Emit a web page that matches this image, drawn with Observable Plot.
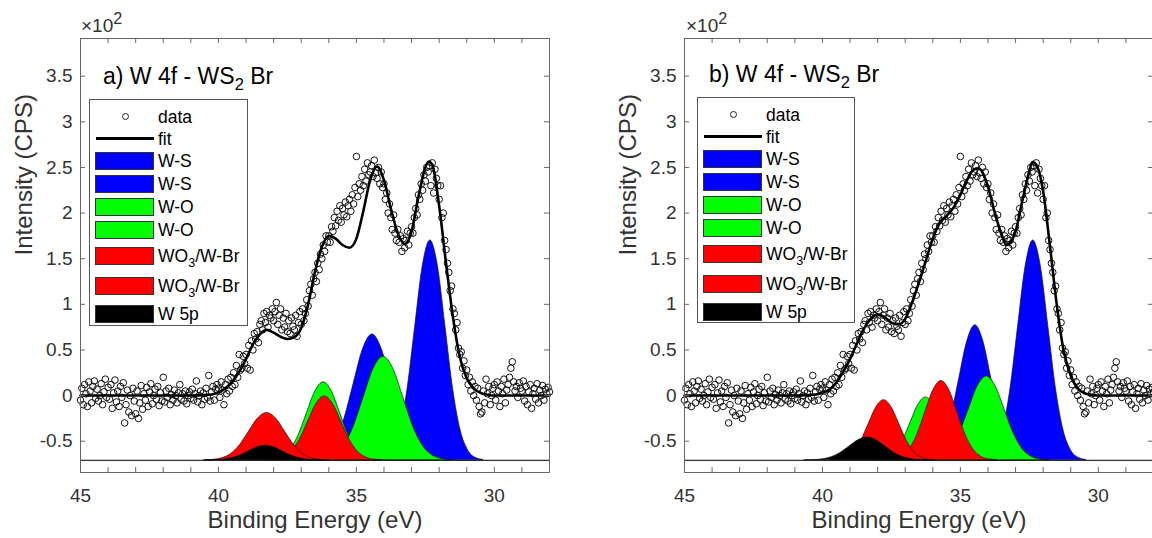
<!DOCTYPE html>
<html>
<head>
<meta charset="utf-8">
<script src="https://cdn.jsdelivr.net/npm/d3@7"></script>
<script src="https://cdn.jsdelivr.net/npm/@observablehq/plot@0.6"></script>
<style>
  html, body { margin: 0; padding: 0; background: #fff; }
  body { width: 1152px; height: 538px; overflow: hidden; position: relative;
         font-family: "Liberation Sans", Arial, Helvetica, sans-serif; color: #262626; }
  .panel { position: absolute; top: 0; width: 576px; height: 538px; }
  .panel svg { position: absolute; left: 0; top: 0; overflow: visible; }
  .title { position: absolute; font-size: 23px; line-height: 23px; white-space: nowrap; color: #000; }
  .title sub, .legend sub { font-size: 0.72em; vertical-align: -0.38em; line-height: 0; }
  .expo { position: absolute; font-size: 19px; line-height: 19px; white-space: nowrap; color: #333; }
  .expo sup { font-size: 0.85em; vertical-align: 0.5em; line-height: 0; }
  .legend { position: absolute; background: #fff; border: 1px solid #555; box-sizing: border-box; }
  .legend .lab { position: absolute; font-size: 17.5px; line-height: 20px; height: 20px; white-space: nowrap; color: #000; }
  .legend .sw { position: absolute; height: 18px; box-sizing: border-box; border: 1px solid #333; }
  .legend .ln { position: absolute; height: 3px; background: #000; }
  .legend .mk { position: absolute; width: 7px; height: 7px; box-sizing: border-box; border: 1px solid #222; border-radius: 50%; }
</style>
</head>
<body>
<div id="panelA" class="panel" style="left:0px"></div>
<div id="panelB" class="panel" style="left:604px"></div>
<script>
// ---- measured spectrum: intensity (x10^2 CPS) on a 0.05 eV grid from 45.00 down to 28.00 eV
const energyStart = 45.0;
const energyStep = 0.05;
const intensity = [
  -0.05, 0.08, -0.10, 0.12, 0.02, -0.12, 0.15, 0.05, -0.08, 0.10, 0.16, -0.03, 0.07, -0.06, 0.00, 0.13, -0.10, 0.04, 0.18, -0.02,
  0.09, -0.04, 0.12, -0.14, 0.03, 0.17, -0.07, 0.05, -0.12, 0.10, -0.02, 0.14, -0.30, -0.10, 0.06, -0.18, 0.00, -0.22, 0.08, -0.06,
  -0.20, 0.05, -0.25, -0.08, 0.11, -0.15, 0.02, -0.05, 0.09, -0.12, 0.04, 0.13, -0.09, 0.00, 0.07, -0.04, 0.10, -0.11, 0.03, -0.06,
  0.20, -0.07, 0.05, -0.02, 0.08, -0.10, 0.01, -0.05, 0.06, 0.00, -0.08, 0.03, 0.12, -0.04, 0.02, -0.06, 0.05, -0.09, 0.00, 0.04,
  -0.03, 0.07, -0.05, 0.02, 0.16, -0.07, 0.00, 0.05, -0.10, 0.03, -0.04, 0.08, -0.02, 0.22, -0.06, 0.04, 0.10, -0.05, 0.07, 0.12,
  0.08, -0.02, 0.15, 0.06, -0.10, 0.12, 0.02, 0.18, 0.05, 0.20, 0.10, 0.25, 0.12, 0.33, 0.20, 0.45, 0.28, 0.30, 0.43, 0.35,
  0.45, 0.30, 0.55, 0.28, 0.60, 0.50, 0.68, 0.62, 0.70, 0.58, 0.78, 0.82, 0.72, 0.90, 0.80, 0.92, 0.75, 0.88, 0.85, 0.95,
  0.82, 0.92, 1.02, 0.78, 0.88, 0.95, 0.72, 0.85, 0.75, 0.90, 0.70, 0.82, 0.68, 0.85, 0.76, 0.72, 0.88, 0.65, 0.80, 0.92,
  0.78, 0.95, 0.82, 0.90, 1.05, 0.98, 1.15, 1.22, 1.10, 1.28, 1.35, 1.25, 1.45, 1.38, 1.55, 1.50, 1.65, 1.58, 1.75, 1.68,
  1.75, 1.68, 1.85, 1.80, 1.95, 1.86, 2.02, 1.92, 2.08, 1.90, 2.05, 1.98, 2.12, 1.96, 2.08, 2.15, 2.02, 2.20, 2.10, 2.28,
  2.62, 2.18, 2.32, 2.25, 2.40, 2.30, 2.48, 2.35, 2.55, 2.42, 2.45, 2.52, 2.40, 2.58, 2.44, 2.38, 2.50, 2.32, 2.45, 2.28,
  2.32, 2.15, 2.22, 2.00, 2.10, 1.95, 1.82, 1.98, 1.78, 1.70, 1.82, 1.68, 1.75, 1.58, 1.72, 1.62, 1.70, 1.80, 1.65, 1.78,
  1.85, 1.78, 1.95, 2.05, 1.98, 2.20, 2.15, 2.32, 2.25, 2.42, 2.35, 2.50, 2.45, 2.52, 2.30, 2.55, 2.22, 2.48, 2.38, 2.30,
  2.15, 2.30, 1.95, 2.00, 1.70, 1.60, 1.45, 1.35, 1.15, 1.20, 0.95, 0.90, 0.72, 0.80, 0.52, 0.45, 0.48, 0.30, 0.38, 0.22,
  0.28, 0.12, 0.20, 0.05, 0.15, 0.00, 0.10, -0.05, 0.08, -0.12, -0.20, -0.18, 0.05, -0.08, 0.18, 0.02, 0.10, -0.10, 0.00, 0.08,
  0.12, -0.05, 0.15, 0.05, -0.12, 0.10, 0.02, 0.18, -0.08, 0.06, 0.12, 0.20, 0.30, 0.37, 0.15, 0.05, 0.10, -0.02, 0.14, 0.08,
  0.05, 0.16, -0.06, 0.10, -0.10, 0.04, 0.12, -0.14, 0.02, 0.08, -0.04, 0.13, -0.08, 0.06, 0.00, 0.11, -0.05, 0.07, 0.02, 0.09,
  0.04
];

// ---- total fit envelopes (x10^2 CPS)
const fitEnergyA = [45, 44, 43, 42, 41, 40.5, 40.25, 40, 39.75, 39.5, 39.25, 39, 38.75, 38.5, 38.25, 38, 37.75, 37.5, 37.25, 37,
  36.75, 36.5, 36.25, 36, 35.75, 35.5, 35.25, 35, 34.75, 34.5, 34.25, 34, 33.75, 33.5, 33.25, 33, 32.75, 32.5, 32.38, 32.25,
  32, 31.75, 31.5, 31.25, 31, 30.75, 30.5, 30.25, 30, 29, 28];
const fitA = [0, 0, 0, 0, 0, 0.005, 0.012, 0.03, 0.08, 0.15, 0.26, 0.40, 0.56, 0.67, 0.72, 0.69, 0.645, 0.62, 0.64, 0.74,
  1.00, 1.36, 1.63, 1.75, 1.72, 1.65, 1.62, 1.72, 2.02, 2.36, 2.51, 2.36, 2.05, 1.78, 1.66, 1.80, 2.18, 2.50, 2.565, 2.53,
  2.08, 1.45, 0.86, 0.42, 0.19, 0.08, 0.03, 0.01, 0, 0, 0];

const fitEnergyB = [45, 44, 43, 42, 41, 40.5, 40.25, 40, 39.75, 39.5, 39.25, 39, 38.75, 38.5, 38.25, 38, 37.75, 37.5, 37.25, 37,
  36.75, 36.5, 36.25, 36, 35.75, 35.5, 35.25, 35, 34.75, 34.5, 34.35, 34.25, 34, 33.75, 33.5, 33.33, 33.25, 33, 32.75, 32.5,
  32.39, 32.25, 32, 31.75, 31.5, 31.25, 31, 30.75, 30.5, 30.25, 30, 29, 28];
const fitB = [0, 0, 0, 0, 0, 0.005, 0.012, 0.03, 0.065, 0.14, 0.26, 0.40, 0.57, 0.73, 0.84, 0.89, 0.86, 0.80, 0.78, 0.84,
  1.02, 1.24, 1.48, 1.72, 1.89, 1.97, 2.06, 2.20, 2.37, 2.48, 2.49, 2.47, 2.29, 2.00, 1.76, 1.65, 1.66, 1.80, 2.14, 2.46,
  2.56, 2.53, 2.24, 1.63, 0.98, 0.48, 0.22, 0.08, 0.025, 0.008, 0, 0, 0];

// ---- fitted components: centre (eV), sample spacing (eV) and sampled heights above the component baseline
const componentNames = ["W-S", "W-S", "W-O", "W-O", "WO3/W-Br", "WO3/W-Br", "W 5p"];
const componentBaseline = -0.71;

const centersA = [32.32, 34.42, 36.19, 34.02, 36.15, 38.24, 38.29];
const spacingA = [0.275, 0.34, 0.30, 0.36, 0.30, 0.325, 0.31];
const profilesA = [
  [0.005, 0.027, 0.106, 0.326, 0.783, 1.462, 2.127, 2.410, 2.127, 1.462, 0.783, 0.326, 0.106, 0.027, 0.005],
  [0.003, 0.015, 0.061, 0.187, 0.448, 0.837, 1.218, 1.380, 1.218, 0.837, 0.448, 0.187, 0.061, 0.015, 0.003],
  [0.002, 0.009, 0.038, 0.116, 0.278, 0.519, 0.755, 0.855, 0.755, 0.519, 0.278, 0.116, 0.038, 0.009, 0.002],
  [0.002, 0.013, 0.050, 0.154, 0.369, 0.688, 1.002, 1.135, 1.002, 0.688, 0.369, 0.154, 0.050, 0.013, 0.002],
  [0.002, 0.008, 0.031, 0.095, 0.227, 0.425, 0.618, 0.700, 0.618, 0.425, 0.227, 0.095, 0.031, 0.008, 0.002],
  [0.001, 0.006, 0.023, 0.070, 0.169, 0.315, 0.459, 0.520, 0.459, 0.315, 0.169, 0.070, 0.023, 0.006, 0.001],
  [0.000, 0.002, 0.007, 0.022, 0.052, 0.097, 0.141, 0.160, 0.141, 0.097, 0.052, 0.022, 0.007, 0.002, 0.000]
];

const centersB = [32.36, 34.46, 36.25, 34.05, 35.69, 37.77, 38.37];
const spacingB = [0.275, 0.29, 0.275, 0.325, 0.29, 0.275, 0.325];
const profilesB = [
  [0.005, 0.027, 0.106, 0.326, 0.783, 1.462, 2.127, 2.410, 2.127, 1.462, 0.783, 0.326, 0.106, 0.027, 0.005],
  [0.003, 0.016, 0.065, 0.200, 0.481, 0.898, 1.306, 1.480, 1.306, 0.898, 0.481, 0.200, 0.065, 0.016, 0.003],
  [0.002, 0.008, 0.030, 0.093, 0.224, 0.418, 0.609, 0.690, 0.609, 0.418, 0.224, 0.093, 0.030, 0.008, 0.002],
  [0.002, 0.010, 0.040, 0.124, 0.299, 0.558, 0.812, 0.920, 0.812, 0.558, 0.299, 0.124, 0.040, 0.010, 0.002],
  [0.002, 0.010, 0.038, 0.118, 0.282, 0.528, 0.768, 0.870, 0.768, 0.528, 0.282, 0.118, 0.038, 0.010, 0.002],
  [0.001, 0.007, 0.029, 0.089, 0.214, 0.400, 0.582, 0.660, 0.582, 0.400, 0.214, 0.089, 0.029, 0.007, 0.001],
  [0.001, 0.003, 0.011, 0.034, 0.081, 0.152, 0.221, 0.250, 0.221, 0.152, 0.081, 0.034, 0.011, 0.003, 0.001]
];

// ---- axes
const xTicks = [45, 44, 43, 42, 41, 40, 39, 38, 37, 36, 35, 34, 33, 32, 31, 30, 29, 28];
const xTickLabels = [45, 40, 35, 30];
const yTicks = [-0.5, 0, 0.5, 1, 1.5, 2, 2.5, 3, 3.5];
const xDomain = [45, 28];
const yDomain = [-0.843, 3.913];

// ---- presentation
const componentColors = ["#0000ff", "#0000ff", "#00ff00", "#00ff00", "#ff0000", "#ff0000", "#000000"];
const componentLegendHTML = ["W-S", "W-S", "W-O", "W-O", "WO<sub>3</sub>/W-Br", "WO<sub>3</sub>/W-Br", "W 5p"];
const legendRows = [16.5, 38.5, 61, 84, 107, 130, 156, 186, 214];

const W = 576, H = 538;
const M = {left: 80, right: 27, top: 38, bottom: 66};
const frameW = W - M.left - M.right;
const frameH = H - M.top - M.bottom;
const tickLen = 5;

const spectrum = intensity.map((v, i) => ({e: energyStart - i * energyStep, v}));

function componentRows(centers, spacing, profiles) {
  return profiles.map((p, k) => {
    const mid = (p.length - 1) / 2;
    return p.map((v, i) => ({e: centers[k] + (mid - i) * spacing[k], v: componentBaseline + v}));
  });
}

function drawPanel(el, fitE, fitV, centers, spacing, profiles) {
  const comps = componentRows(centers, spacing, profiles);
  const fit = fitE.map((e, i) => ({e, v: fitV[i]}));
  const marks = [
    Plot.ruleY([componentBaseline], {stroke: "#333", strokeWidth: 1.3})
  ];
  comps.forEach((rows, k) => {
    marks.push(Plot.areaY(rows, {x: "e", y1: componentBaseline, y2: "v", fill: componentColors[k],
      stroke: "#111", strokeWidth: 0.7, curve: "monotone-x"}));
  });
  marks.push(
    Plot.dot(spectrum, {x: "e", y: "v", r: 3.3, stroke: "#111", strokeWidth: 1, fill: "none"}),
    Plot.line(fit, {x: "e", y: "v", stroke: "#000", strokeWidth: 2.6, curve: "monotone-x"}),
    Plot.frame({stroke: "#666", strokeWidth: 1}),
    Plot.tickX(xTicks, {x: d => d, insetTop: frameH - tickLen, stroke: "#666"}),
    Plot.tickX(xTicks, {x: d => d, insetBottom: frameH - tickLen, stroke: "#666"}),
    Plot.tickY(yTicks, {y: d => d, insetRight: frameW - tickLen, stroke: "#666"}),
    Plot.tickY(yTicks, {y: d => d, insetLeft: frameW - tickLen, stroke: "#666"}),
    Plot.axisX(xTickLabels, {anchor: "bottom", tickSize: 0, tickPadding: 16, fontSize: 19, color: "#333",
      tickFormat: d => String(d), label: null}),
    Plot.axisY(yTicks, {anchor: "left", tickSize: 0, tickPadding: 8, fontSize: 19, color: "#333",
      tickFormat: d => String(d), label: null}),
    Plot.text(["Binding Energy (eV)"], {text: d => d, frameAnchor: "bottom", dy: 55, fontSize: 24, fill: "#333"}),
    Plot.text(["Intensity (CPS)"], {text: d => d, frameAnchor: "left", dx: -56, rotate: -90, fontSize: 24, fill: "#333"})
  );
  const svg = Plot.plot({
    width: W, height: H,
    marginLeft: M.left, marginRight: M.right, marginTop: M.top, marginBottom: M.bottom,
    x: {domain: xDomain, label: null},
    y: {domain: yDomain, label: null},
    style: {fontFamily: "'Liberation Sans', Arial, Helvetica, sans-serif", background: "transparent"},
    marks
  });
  el.appendChild(svg);
}

function addDecor(el, titleHTML, titlePos, expoPos, legendPos) {
  const t = document.createElement("div");
  t.className = "title";
  t.innerHTML = titleHTML;
  t.style.left = titlePos[0] + "px";
  t.style.top = titlePos[1] + "px";
  el.appendChild(t);

  const x = document.createElement("div");
  x.className = "expo";
  x.innerHTML = "&times;10<sup>2</sup>";
  x.style.left = expoPos[0] + "px";
  x.style.top = expoPos[1] + "px";
  el.appendChild(x);

  const lg = document.createElement("div");
  lg.className = "legend";
  lg.style.left = legendPos[0] + "px";
  lg.style.top = legendPos[1] + "px";
  lg.style.width = legendPos[2] + "px";
  lg.style.height = legendPos[3] + "px";
  const entries = [{kind: "mk", html: "data"}, {kind: "ln", html: "fit"}]
    .concat(componentLegendHTML.map((h, k) => ({kind: "sw", html: h, color: componentColors[k]})));
  entries.forEach((en, i) => {
    const cy = legendRows[i];
    const s = document.createElement("div");
    s.className = en.kind;
    if (en.kind === "sw") {
      s.style.left = "5px"; s.style.width = "59px"; s.style.top = (cy - 9) + "px";
      s.style.background = en.color;
    } else if (en.kind === "ln") {
      s.style.left = "6px"; s.style.width = "58px"; s.style.top = (cy - 1.5) + "px";
    } else {
      s.style.left = "32px"; s.style.top = (cy - 3.5) + "px";
    }
    lg.appendChild(s);
    const l = document.createElement("div");
    l.className = "lab";
    l.innerHTML = en.html;
    l.style.left = "68px";
    l.style.top = (cy - 10) + "px";
    lg.appendChild(l);
  });
  el.appendChild(lg);
}

const pa = document.getElementById("panelA");
const pb = document.getElementById("panelB");
drawPanel(pa, fitEnergyA, fitA, centersA, spacingA, profilesA);
drawPanel(pb, fitEnergyB, fitB, centersB, spacingB, profilesB);
addDecor(pa, "a) W 4f - WS<sub>2</sub> Br", [103, 65], [81, 16], [89, 99, 159, 227]);
addDecor(pb, "b) W 4f - WS<sub>2</sub> Br", [105, 63], [82, 16], [93, 97, 158, 226]);
</script>
</body>
</html>
